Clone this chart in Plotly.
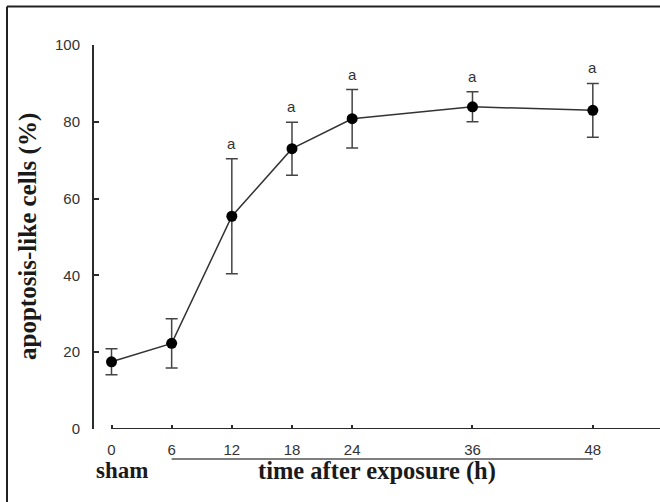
import plotly.graph_objects as go

# ---- data ----
hours = [0, 6, 12, 18, 24, 36, 48]
apoptosis_pct = [17.5, 22.3, 55.4, 73.0, 80.8, 83.9, 83.0]
sem = [3.4, 6.4, 15.0, 6.9, 7.6, 3.9, 7.0]
sig_labels = ["", "", "a", "a", "a", "a", "a"]
x_tick_labels = ["0", "6", "12", "18", "24", "36", "48"]
y_ticks = [0, 20, 40, 60, 80, 100]

X_MIN, X_MAX = -1.745, 54.7
INK = "#2b2b2b"
SANS = "Liberation Sans, Arial, sans-serif"
SERIF = "Liberation Serif, Times New Roman, serif"

fig = go.Figure()
fig.add_trace(go.Scatter(
    x=hours, y=apoptosis_pct,
    mode="lines+markers",
    line=dict(color="#333333", width=1.5),
    marker=dict(color="black", size=11),
    error_y=dict(type="data", array=sem, visible=True,
                 color="#444444", thickness=1.5, width=6),
    showlegend=False,
))

annotations = []
for h, v, e, s in zip(hours, apoptosis_pct, sem, sig_labels):
    if s:
        annotations.append(dict(x=h, y=v + e, xref="x", yref="y", text=s,
                                showarrow=False, yanchor="bottom", yshift=5,
                                font=dict(family=SANS, size=15, color="#333")))

# axis titles
annotations.append(dict(x=0, y=0.5, xref="paper", yref="paper", xshift=-66,
                        text="<b>apoptosis-like cells (%)</b>", textangle=-90,
                        showarrow=False, xanchor="center", yanchor="middle",
                        font=dict(family=SERIF, size=25, color="#1a1a1a")))
annotations.append(dict(x=1.0, y=-0.109, xref="x", yref="paper",
                        text="<b>sham</b>", showarrow=False,
                        xanchor="center", yanchor="middle",
                        font=dict(family=SERIF, size=23, color="#1a1a1a")))
annotations.append(dict(x=26.5, y=-0.109, xref="x", yref="paper",
                        text="<b>time after exposure (h)</b>", showarrow=False,
                        xanchor="center", yanchor="middle",
                        font=dict(family=SERIF, size=24.5, color="#1a1a1a")))

shapes = [
    # x axis line starting at 0
    dict(type="line", xref="x", yref="y", x0=0, x1=X_MAX, y0=0, y1=0,
         line=dict(color=INK, width=2)),
    # bracket under exposure time points
    dict(type="line", xref="x", yref="paper", x0=hours[1], x1=hours[-1],
         y0=-0.078, y1=-0.078, line=dict(color="#555", width=1.5)),
    # figure frame (top and left)
    dict(type="line", xref="paper", yref="paper", x0=-0.1537, x1=1.1,
         y0=1.1, y1=1.1, line=dict(color="#222", width=2)),
    dict(type="line", xref="paper", yref="paper", x0=-0.1537, x1=-0.1537,
         y0=1.1, y1=-0.25, line=dict(color="#222", width=2)),
]

fig.update_layout(
    width=660, height=502, autosize=False,
    margin=dict(l=94, r=0, t=45, b=73),
    paper_bgcolor="white", plot_bgcolor="white",
    xaxis=dict(range=[X_MIN, X_MAX], tickvals=hours, ticktext=x_tick_labels,
               ticks="inside", ticklen=4, tickwidth=1.5, tickcolor=INK,
               showline=False, showgrid=False, zeroline=False,
               ticklabelstandoff=10,
               tickfont=dict(family=SANS, size=15, color="#333")),
    yaxis=dict(range=[0, 100], tickvals=y_ticks,
               ticks="inside", ticklen=5, tickwidth=1.5, tickcolor=INK,
               showline=True, linecolor=INK, linewidth=2,
               showgrid=False, zeroline=False,
               ticklabelstandoff=9,
               tickfont=dict(family=SANS, size=15, color="#333")),
    annotations=annotations,
    shapes=shapes,
)

fig.write_html(
    "out.html",
    config={"displayModeBar": False},
    post_script="document.body.style.margin='0';document.body.style.overflow='hidden';",
)
